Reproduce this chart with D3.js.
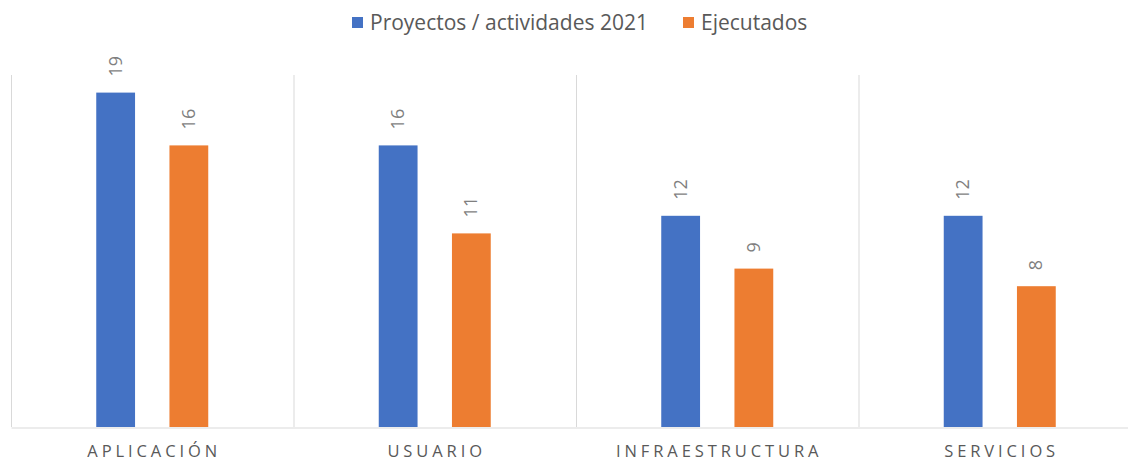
<!DOCTYPE html>
<html>
<head>
<meta charset="utf-8">
<script src="https://cdn.jsdelivr.net/npm/d3@7"></script>
<style>
  body { margin: 0; background: #fff; }
  svg text { font-family: "Open Sans", Lato, sans-serif; }
</style>
</head>
<body>
<div id="chart"></div>
<script>
const categorias = ["APLICACIÓN", "USUARIO", "INFRAESTRUCTURA", "SERVICIOS"];
const series = ["Proyectos / actividades 2021", "Ejecutados"];
const proyectos = [19, 16, 12, 12];
const ejecutados = [16, 11, 9, 8];
const colores = ["#4472C4", "#ED7D31"];

const width = 1128, height = 463;

const svg = d3.select("#chart")
    .append("svg")
    .attr("width", width)
    .attr("height", height);

// escalas
const x0 = d3.scaleBand()
    .domain(categorias)
    .range([11, 1141])
    .padding(0);

const x1 = d3.scaleBand()
    .domain(series)
    .range([x0.bandwidth() / 2 - 56, x0.bandwidth() / 2 + 56])
    .paddingInner(0.47);

const y = d3.scaleLinear()
    .domain([0, 20])
    .range([427, 75]);

const filas = categorias.map((c, i) => ({
    categoria: c,
    valores: [
        { serie: series[0], valor: proyectos[i] },
        { serie: series[1], valor: ejecutados[i] }
    ]
}));

// separadores verticales entre categorías
const bordes = categorias.map(c => x0(c)).concat([x0.range()[1]]);
svg.append("g")
    .selectAll("line")
    .data(bordes)
    .enter()
    .append("line")
    .attr("x1", d => d + 0.5)
    .attr("x2", d => d + 0.5)
    .attr("y1", y(20))
    .attr("y2", y(0))
    .attr("stroke", "#d9d9d9")
    .attr("stroke-width", 1);

// eje X
const ejeX = svg.append("g")
    .attr("transform", `translate(0,${y(0) + 0.5})`)
    .call(d3.axisBottom(x0).tickSize(0).tickPadding(18));
ejeX.select(".domain").attr("stroke", "#d9d9d9");
ejeX.selectAll("text")
    .attr("fill", "#595959")
    .attr("dx", "1.9px")
    .style("font-size", "16.5px")
    .style("letter-spacing", "3.9px");

// barras
const grupos = svg.append("g")
    .selectAll("g")
    .data(filas)
    .enter()
    .append("g")
    .attr("transform", d => `translate(${x0(d.categoria)},0)`);

grupos.selectAll("rect")
    .data(d => d.valores)
    .enter()
    .append("rect")
    .attr("x", d => x1(d.serie))
    .attr("y", d => y(d.valor))
    .attr("width", x1.bandwidth())
    .attr("height", d => y(0) - y(d.valor))
    .attr("fill", (d, i) => colores[i]);

// etiquetas de valor (giradas)
grupos.selectAll("text.valor")
    .data(d => d.valores)
    .enter()
    .append("text")
    .attr("class", "valor")
    .attr("transform", d => `translate(${x1(d.serie) + x1.bandwidth() / 2 + 6},${y(d.valor) - 16}) rotate(-90)`)
    .attr("text-anchor", "start")
    .attr("fill", "#7f7f7f")
    .style("font-size", "18px")
    .text(d => d.valor);

// leyenda
const leyenda = svg.append("g");
const posLeyenda = [352, 683];
series.forEach((s, i) => {
    leyenda.append("rect")
        .attr("x", posLeyenda[i])
        .attr("y", 17)
        .attr("width", 11)
        .attr("height", 11)
        .attr("fill", colores[i]);
    leyenda.append("text")
        .attr("x", posLeyenda[i] + 18)
        .attr("y", 30)
        .attr("fill", "#595959")
        .style("font-size", "21px")
        .text(s);
});
</script>
</body>
</html>
